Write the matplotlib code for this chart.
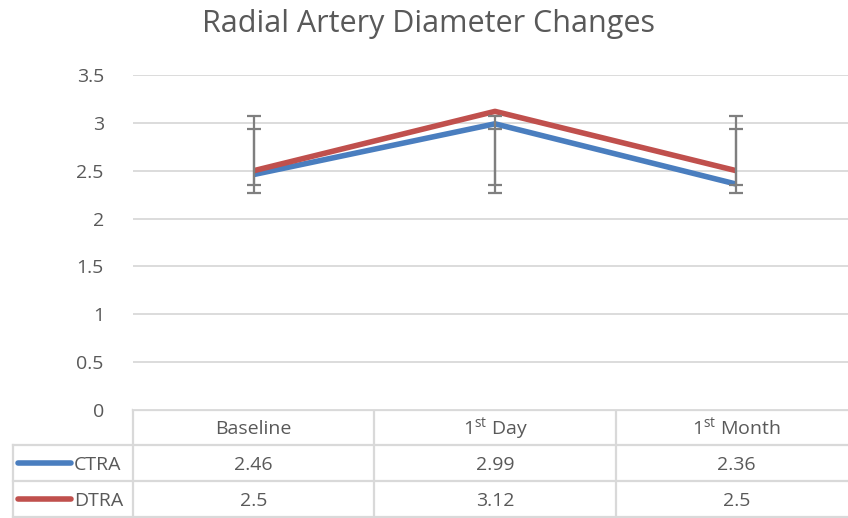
import matplotlib
matplotlib.use("Agg")
import matplotlib.pyplot as plt

plt.rcParams['font.family'] = ['Open Sans', 'DejaVu Sans']
plt.rcParams['mathtext.fontset'] = 'custom'
plt.rcParams['mathtext.rm'] = 'Open Sans'
plt.rcParams['mathtext.default'] = 'rm'

# ---- data ----
categories = [r'Baseline', r'1$^{\mathrm{st}}$ Day', r'1$^{\mathrm{st}}$ Month']
series_names = ['CTRA', 'DTRA']
ctra = [2.46, 2.99, 2.36]
dtra = [2.5, 3.12, 2.5]
# error bar extents (low, high)
ctra_low = [2.35, 2.35, 2.35]
ctra_high = [2.94, 2.94, 2.94]
dtra_low = [2.27, 2.27, 2.27]
dtra_high = [3.07, 3.07, 3.07]
yticks = [0, 0.5, 1, 1.5, 2, 2.5, 3, 3.5]
ytick_labels = ['0', '0.5', '1', '1.5', '2', '2.5', '3', '3.5']
title = 'Radial Artery Diameter Changes'

BLUE = '#4a7ebf'
RED = '#c0504d'
GRAY_TXT = '#595959'
GRID = '#d9d9d9'
ERR = '#7f7f7f'
FS = 14

W, H = 848, 518
fig = plt.figure(figsize=(W / 100, H / 100), dpi=100)
fig.patch.set_facecolor('white')

left_px, right_px, top_px, bot_px = 133, 857, 75, 410
ax = fig.add_axes([left_px / W, (H - bot_px) / H, (right_px - left_px) / W, (bot_px - top_px) / H])
ax.set_xlim(-0.5, len(categories) - 0.5)
ax.set_ylim(0, 3.5)
ax.set_yticks(yticks)
ax.set_yticklabels(ytick_labels, fontsize=FS, color=GRAY_TXT)
ax.tick_params(axis='y', length=0, pad=21)
ax.set_xticks([])
for s in ax.spines.values():
    s.set_visible(False)
ax.yaxis.grid(True, color=GRID, linewidth=1.3)
ax.set_axisbelow(True)

x = list(range(len(categories)))
ax.plot(x, ctra, color=BLUE, linewidth=4.0, solid_capstyle='butt', zorder=3)
ax.plot(x, dtra, color=RED, linewidth=4.0, solid_capstyle='butt', zorder=3)

for lo, hi in [(ctra_low, ctra_high), (dtra_low, dtra_high)]:
    mid = [(a + b) / 2 for a, b in zip(lo, hi)]
    half = [(b - a) / 2 for a, b in zip(lo, hi)]
    ax.errorbar(x, mid, yerr=half, fmt='none', ecolor=ERR, elinewidth=1.6,
                capsize=4.8, capthick=1.6, zorder=4)

fig.text(428 / W, (H - 32) / H, title, fontsize=22, color=GRAY_TXT,
         ha='center', va='baseline')

# ---- data table (drawn in figure pixel coordinates) ----
ov = fig.add_axes([0, 0, 1, 1])
ov.set_xlim(0, W)
ov.set_ylim(H, 0)
ov.axis('off')
ov.set_zorder(-1)

def xpx(v):
    return ax.transData.transform((v, 0))[0]

edges = [xpx(i - 0.5) for i in range(len(categories) + 1)]
centers = [xpx(i) for i in x]
row_y = [410, 445, 481, 517]
leg_left = 13
lc = dict(color=GRID, linewidth=1.6, clip_on=False)

ov.plot([edges[0], edges[-1]], [row_y[0], row_y[0]], **lc)
for yy in row_y[1:]:
    ov.plot([leg_left, edges[-1]], [yy, yy], **lc)
for ex in edges:
    ov.plot([ex, ex], [row_y[0], H], **lc)
ov.plot([leg_left, leg_left], [row_y[1], H], **lc)

hdr_y = (row_y[0] + row_y[1]) / 2
for cx, cat in zip(centers, categories):
    ov.text(cx, hdr_y + 7, cat, ha='center', va='baseline', fontsize=FS, color=GRAY_TXT)

for r, (name, vals, col) in enumerate([(series_names[0], ctra, BLUE), (series_names[1], dtra, RED)]):
    yc = (row_y[r + 1] + row_y[r + 2]) / 2
    ov.plot([18, 71], [yc, yc], color=col, linewidth=4.0, solid_capstyle='round')
    ov.text(74, yc + 7, name, ha='left', va='baseline', fontsize=FS, color=GRAY_TXT)
    for cx, v in zip(centers, vals):
        ov.text(cx, yc + 7, str(v), ha='center', va='baseline', fontsize=FS, color=GRAY_TXT)

fig.savefig('out.png', dpi=100, facecolor='white')
